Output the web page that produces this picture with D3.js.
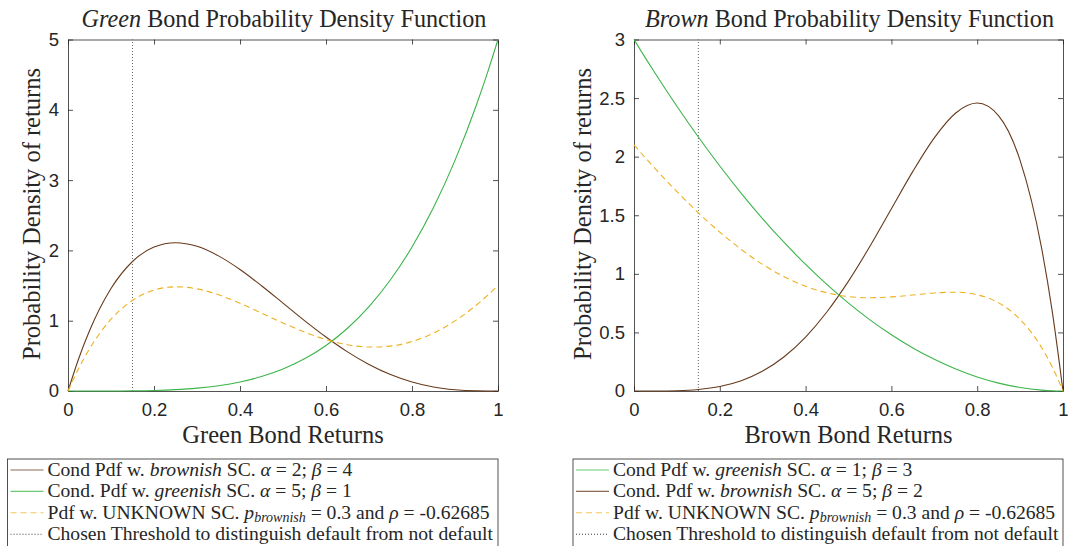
<!DOCTYPE html>
<html><head><meta charset="utf-8">
<script src="https://cdn.jsdelivr.net/npm/d3@7"></script>
<style>
body{margin:0;background:#fff;}
svg{display:block;}
</style></head>
<body>
<svg id="chart" width="1068" height="546"></svg>
<script>
// ---------- data ----------
const xGrid = [0, 0.025, 0.05, 0.1, 0.15, 0.2, 0.25, 0.3, 0.35, 0.4, 0.45, 0.5, 0.55, 0.6, 0.65, 0.7, 0.75, 0.8, 0.85, 0.9, 0.95, 0.975, 1];

// Left panel: Green bond
const greenBrownish = [0, 0.463, 0.857, 1.458, 1.842, 2.048, 2.109, 2.058, 1.922, 1.728, 1.497, 1.25, 1.002, 0.768, 0.557, 0.378, 0.234, 0.128, 0.057, 0.018, 0.002, 0.0003, 0];
const greenGreenish = [0, 0, 0.00003, 0.0005, 0.0025, 0.008, 0.0195, 0.0405, 0.075, 0.128, 0.205, 0.3125, 0.4575, 0.648, 0.8925, 1.2005, 1.582, 2.048, 2.61, 3.2805, 4.0725, 4.518, 5];
const greenUnknown = [0, 0.324, 0.6, 1.021, 1.29, 1.436, 1.482, 1.453, 1.368, 1.248, 1.109, 0.969, 0.838, 0.732, 0.658, 0.625, 0.639, 0.704, 0.823, 0.997, 1.223, 1.356, 1.5];

// Right panel: Brown bond
const brownGreenish = [3, 2.852, 2.7075, 2.43, 2.1675, 1.92, 1.6875, 1.47, 1.2675, 1.08, 0.9075, 0.75, 0.6075, 0.48, 0.3675, 0.27, 0.1875, 0.12, 0.0675, 0.03, 0.0075, 0.0019, 0];
const brownBrownish = [0, 0, 0.0002, 0.0027, 0.0129, 0.0384, 0.0879, 0.1701, 0.2926, 0.4608, 0.6766, 0.9375, 1.2353, 1.5552, 1.8743, 2.1609, 2.373, 2.4576, 2.349, 1.9683, 1.2218, 0.678, 0];
const brownUnknown = [2.1, 1.996, 1.895, 1.702, 1.521, 1.356, 1.208, 1.08, 0.975, 0.894, 0.838, 0.806, 0.796, 0.803, 0.819, 0.837, 0.843, 0.821, 0.752, 0.611, 0.372, 0.205, 0];

const threshold = 0.15;
const xTicks = [0, 0.2, 0.4, 0.6, 0.8, 1];
const xTickLabels = ["0", "0.2", "0.4", "0.6", "0.8", "1"];
const yTicksLeft = [0, 1, 2, 3, 4, 5];
const yTickLabelsLeft = ["0", "1", "2", "3", "4", "5"];
const yTicksRight = [0, 0.5, 1, 1.5, 2, 2.5, 3];
const yTickLabelsRight = ["0", "0.5", "1", "1.5", "2", "2.5", "3"];

const COL_BROWN = "#663a1c", COL_GREEN = "#3cb44a", COL_ORANGE = "#EDB120", COL_DOT = "#404040";
const SERIF = "Liberation Serif";
const SANS = "Liberation Sans";

const svg = d3.select("#chart");

function panel(cfg){
  const g = svg.append("g");
  const x = d3.scaleLinear().domain([0,1]).range([cfg.x0, cfg.x1]);
  const y = d3.scaleLinear().domain([0, cfg.ymax]).range([391, 39.5]);

  const ax = d3.axisBottom(x).tickValues(xTicks).tickFormat((d,i)=>xTickLabels[i]).tickSizeInner(-5).tickSizeOuter(0).tickPadding(12);
  const axT = d3.axisTop(x).tickValues(xTicks).tickFormat("").tickSizeInner(-5).tickSizeOuter(0);
  const ay = d3.axisLeft(y).tickValues(cfg.yTicks).tickFormat((d,i)=>cfg.yLabels[i]).tickSizeInner(-5).tickSizeOuter(0).tickPadding(9);
  const ayR = d3.axisRight(y).tickValues(cfg.yTicks).tickFormat("").tickSizeInner(-5).tickSizeOuter(0);

  const styleAxis = sel => {
    sel.attr("font-family", SANS).attr("font-size", 18.5);
    sel.selectAll("path.domain").attr("stroke","#262626").attr("stroke-width",0.8);
    sel.selectAll(".tick line").attr("stroke","#262626").attr("stroke-width",0.8);
    sel.selectAll(".tick text").attr("fill","#262626");
  };
  g.append("g").attr("transform","translate(0,391)").call(ax).call(styleAxis);
  g.append("g").attr("transform","translate(0,39.5)").call(axT).call(styleAxis);
  g.append("g").attr("transform",`translate(${cfg.x0},0)`).call(ay).call(styleAxis);
  g.append("g").attr("transform",`translate(${cfg.x1},0)`).call(ayR).call(styleAxis);

  g.append("line").attr("x1",x(threshold)).attr("x2",x(threshold)).attr("y1",y(0)).attr("y2",y(cfg.ymax))
    .attr("stroke",COL_DOT).attr("stroke-width",0.8).attr("stroke-dasharray","1,2");

  const line = d3.line().x((d,i)=>x(xGrid[i])).y(d=>y(d)).curve(d3.curveMonotoneX);
  cfg.series.forEach(s=>{
    g.append("path").datum(s.values).attr("d",line).attr("fill","none")
      .attr("stroke",s.color).attr("stroke-width",1.1)
      .attr("stroke-dasharray", s.dash || null);
  });

  const cx = (cfg.x0+cfg.x1)/2;
  const t = g.append("text").attr("font-family",SERIF).attr("fill","#262626").attr("x",cx+1).attr("y",27).attr("text-anchor","middle").attr("font-size",24.2);
  t.append("tspan").attr("font-style","italic").text(cfg.titleIt);
  t.append("tspan").text(" Bond Probability Density Function");

  g.append("text").attr("font-family",SERIF).attr("fill","#262626").attr("x",cx).attr("y",443).attr("text-anchor","middle").attr("font-size",24.5).text(cfg.xlabel);
  g.append("text").attr("font-family",SERIF).attr("fill","#262626").attr("transform",`translate(${cfg.ylabX},214) rotate(-90)`).attr("text-anchor","middle").attr("font-size",24.5).text("Probability Density of returns");

  const lg = g.append("g");
  lg.append("rect").attr("x",cfg.lx0).attr("y",459).attr("width",cfg.x1-cfg.lx0).attr("height",120)
    .attr("fill","#fff").attr("stroke","#262626").attr("stroke-width",0.8);
  cfg.legend.forEach((e,i)=>{
    const by = 476 + i*21.4;
    lg.append("line").attr("x1",cfg.lx0+3).attr("x2",cfg.lx0+36).attr("y1",by-6).attr("y2",by-6)
      .attr("stroke",e.color).attr("stroke-width",1.1).attr("stroke-opacity", e.op||0.75).attr("stroke-dasharray",e.dash||null);
    const tx = lg.append("text").attr("font-family",SERIF).attr("fill","#262626").attr("x",cfg.lx0+40).attr("y",by).attr("font-size",19.6);
    e.parts.forEach(p=>{
      const ts = tx.append("tspan").text(p.t);
      if (p.it) ts.attr("font-style","italic");
      if (p.sub) ts.attr("font-size",14).attr("font-style","italic").attr("dy",3);
      if (p.up) ts.attr("dy",-3);
    });
  });
}

function eqParts(word, a, b, lead){
  return [{t:lead+" Pdf w. "},{t:word,it:true},{t:" SC. "},{t:"α",it:true},{t:" = "+a+"; "},{t:"β",it:true},{t:" = "+b}];
}
const unkParts = [{t:"Pdf w. UNKNOWN SC. "},{t:"p",it:true},{t:"brownish",sub:true},{t:" = 0.3 and ",up:true},{t:"ρ",it:true},{t:" = -0.62685"}];
const thrParts = [{t:"Chosen Threshold to distinguish default from not default"}];

panel({
  x0:68, x1:498, ymax:5, yTicks:yTicksLeft, yLabels:yTickLabelsLeft,
  titleIt:"Green", xlabel:"Green Bond Returns", ylabX:40, lx0:7.5,
  series:[
    {values:greenGreenish, color:COL_GREEN},
    {values:greenBrownish, color:COL_BROWN},
    {values:greenUnknown, color:COL_ORANGE, dash:"6,4"}
  ],
  legend:[
    {color:COL_BROWN, parts:eqParts("brownish",2,4,"Cond")},
    {color:COL_GREEN, parts:eqParts("greenish",5,1,"Cond.")},
    {color:COL_ORANGE, dash:"6,4", parts:unkParts},
    {color:COL_DOT, dash:"1,2", op:1, parts:thrParts}
  ]
});
panel({
  x0:634, x1:1063, ymax:3, yTicks:yTicksRight, yLabels:yTickLabelsRight,
  titleIt:"Brown", xlabel:"Brown Bond Returns", ylabX:591, lx0:573,
  series:[
    {values:brownBrownish, color:COL_BROWN},
    {values:brownGreenish, color:COL_GREEN},
    {values:brownUnknown, color:COL_ORANGE, dash:"6,4"}
  ],
  legend:[
    {color:COL_GREEN, parts:eqParts("greenish",1,3,"Cond")},
    {color:COL_BROWN, parts:eqParts("brownish",5,2,"Cond.")},
    {color:COL_ORANGE, dash:"6,4", parts:unkParts},
    {color:COL_DOT, dash:"1,2", op:1, parts:thrParts}
  ]
});
</script>
</body></html>
